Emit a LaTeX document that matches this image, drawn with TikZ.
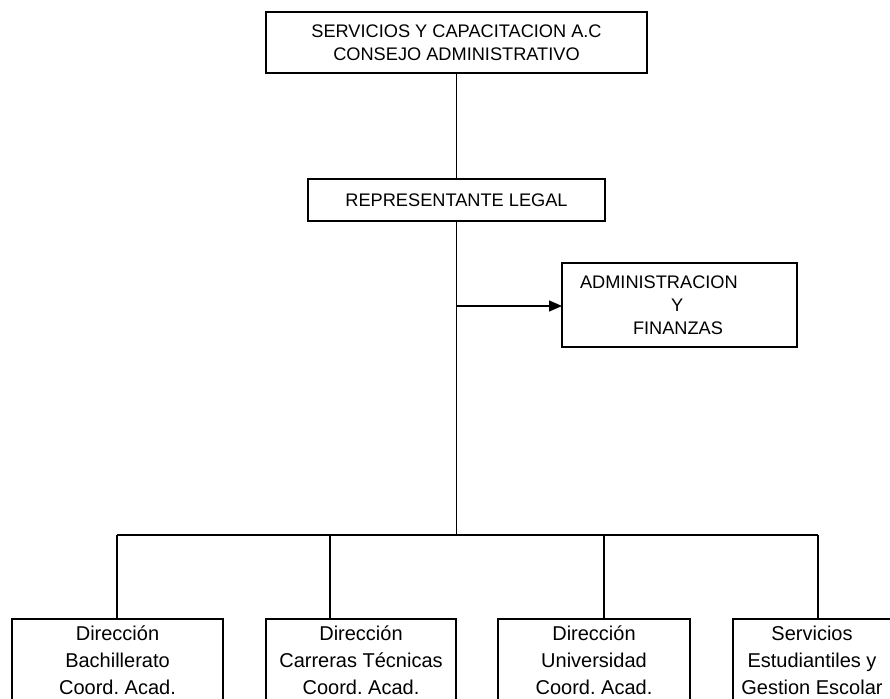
\documentclass[tikz,border=0pt]{standalone}
\usepackage{fontspec}
\setmainfont{Liberation Sans}
\frenchspacing
\usetikzlibrary{positioning,arrows.meta}
\tikzstyle{line}=[draw, line width=1.4pt]
\tikzstyle{box}=[draw, line width=1.4pt, inner sep=0pt, outer sep=0pt, align=center, font=\fontsize{18.2}{23}\selectfont]
\tikzstyle{low}=[box, anchor=north, minimum height=82pt, font=\fontsize{20}{27}\selectfont]

\begin{document}
\begin{tikzpicture}[x=1pt,y=-1pt]
    \useasboundingbox (0,0) rectangle (890,698);
    \clip (0,0) rectangle (890,698);
    \node[box, minimum width=381pt, minimum height=61pt] (c) at (456.5,42.5) {SERVICIOS Y CAPACITACION A.C\\CONSEJO ADMINISTRATIVO};
    \node[box, minimum width=297pt, minimum height=42pt, below=106pt of c] (r) {REPRESENTANTE LEGAL};
    \node[box, align=left, text width=199pt, inner xsep=18pt, minimum height=84pt] (f) at (679.5,305) {ADMINISTRACION\\\hspace*{91pt}Y\\\hspace*{53pt}FINANZAS};
    \node[low, minimum width=211pt] (b) at (117.5,619) {Dirección\\Bachillerato\\Coord. Acad.};
    \node[low, minimum width=190pt] (t) at (361,619) {Dirección\\Carreras Técnicas\\Coord. Acad.};
    \node[low, minimum width=192pt] (u) at (594,619) {Dirección\\Universidad\\Coord. Acad.};
    \node[low, minimum width=158pt] (s) at (812,619) {Servicios\\Estudiantiles y\\Gestion Escolar};
    \coordinate (a) at (456.5,306);
    \coordinate (j) at (456.5,535);
    \coordinate (jb) at (117,535);
    \coordinate (jt) at (330,535);
    \coordinate (ju) at (604,535);
    \coordinate (js) at (818,535);
    \path[line] (c) -- (r);
    \path[line] (r) -- (j);
    \path[line, -{Triangle[length=13pt,width=11pt]}] (a) -- (f.west |- a);
    \path[line] (jb) -- (js);
    \foreach \n in {b,t,u,s}
        \path[line] (j\n) -- (j\n |- \n.north);
\end{tikzpicture}
\end{document}
